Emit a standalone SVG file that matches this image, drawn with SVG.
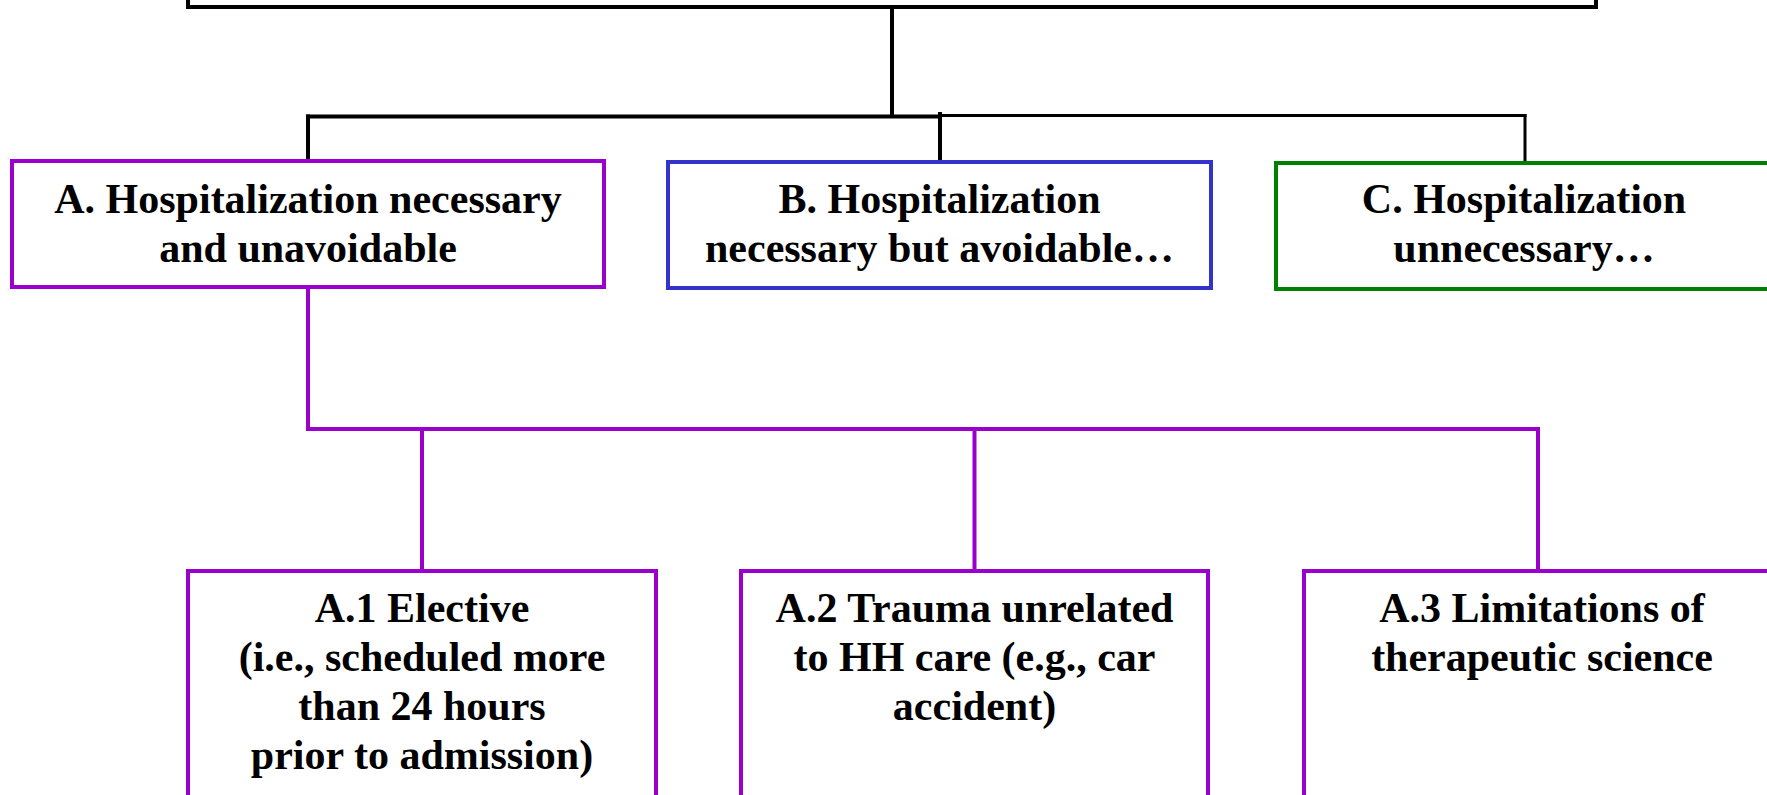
<svg xmlns="http://www.w3.org/2000/svg" width="1767" height="795" viewBox="0 0 1767 795">
<style>
  .box { fill: #ffffff; stroke-width: 4; }
  .top { stroke: #000000; }
  .pur { stroke: #9900CC; }
  .blu { stroke: #3333CC; }
  .grn { stroke: #007F00; }
  .lbl { font-family: "Liberation Serif", "Times New Roman", serif; font-weight: bold; font-size: 42px; fill: #000000; text-anchor: middle; }
  .cb { fill: none; stroke: #000000; stroke-linecap: square; }
  .cp { fill: none; stroke: #9900CC; stroke-width: 4; stroke-linecap: square; }
</style>
<rect x="0" y="0" width="1767" height="795" fill="#ffffff"/>
<g id="connectors">
  <line class="cb" x1="892" y1="9" x2="892" y2="116" stroke-width="4"/>
  <line class="cb" x1="308" y1="116.5" x2="940" y2="116.5" stroke-width="4"/>
  <line class="cb" x1="308" y1="116.5" x2="308" y2="160" stroke-width="4"/>
  <line class="cb" x1="940" y1="115.5" x2="1525" y2="115.5" stroke-width="3"/>
  <line class="cb" x1="940" y1="114" x2="940" y2="169" stroke-width="4"/>
  <line class="cb" x1="1525" y1="115.5" x2="1525" y2="168" stroke-width="3"/>
  <line class="cp" x1="308" y1="289" x2="308" y2="429"/>
  <line class="cp" x1="308" y1="429" x2="1538" y2="429"/>
  <line class="cp" x1="422" y1="429" x2="422" y2="569" stroke-width="3.5"/>
  <line class="cp" x1="974.5" y1="429" x2="974.5" y2="569" stroke-width="3.5"/>
  <line class="cp" x1="1538" y1="429" x2="1538" y2="569" stroke-width="3.5"/>
</g>
<g id="root">
  <rect class="box top" x="188" y="-100" width="1408" height="107"/>
</g>
<g id="nodeA">
  <rect class="box pur" x="12" y="161" width="592" height="126"/>
  <text class="lbl" x="308" y="213">A. Hospitalization necessary</text>
  <text class="lbl" x="308" y="262">and unavoidable</text>
</g>
<g id="nodeB">
  <rect class="box blu" x="668" y="162" width="543" height="126"/>
  <text class="lbl" x="939.5" y="213">B. Hospitalization</text>
  <text class="lbl" x="939.5" y="262">necessary but avoidable…</text>
</g>
<g id="nodeC">
  <rect class="box grn" x="1276" y="163" width="496" height="126"/>
  <text class="lbl" x="1524" y="213">C. Hospitalization</text>
  <text class="lbl" x="1524" y="262">unnecessary…</text>
</g>
<g id="nodeA1">
  <rect class="box pur" x="188" y="571" width="468" height="300"/>
  <text class="lbl" x="422" y="622">A.1 Elective</text>
  <text class="lbl" x="422" y="671">(i.e., scheduled more</text>
  <text class="lbl" x="422" y="720">than 24 hours</text>
  <text class="lbl" x="422" y="769">prior to admission)</text>
</g>
<g id="nodeA2">
  <rect class="box pur" x="741" y="571" width="467" height="300"/>
  <text class="lbl" x="974.5" y="622">A.2 Trauma unrelated</text>
  <text class="lbl" x="974.5" y="671">to HH care (e.g., car</text>
  <text class="lbl" x="974.5" y="720">accident)</text>
</g>
<g id="nodeA3">
  <rect class="box pur" x="1304" y="571" width="476" height="300"/>
  <text class="lbl" x="1542" y="622">A.3 Limitations of</text>
  <text class="lbl" x="1542" y="671">therapeutic science</text>
</g>
</svg>
